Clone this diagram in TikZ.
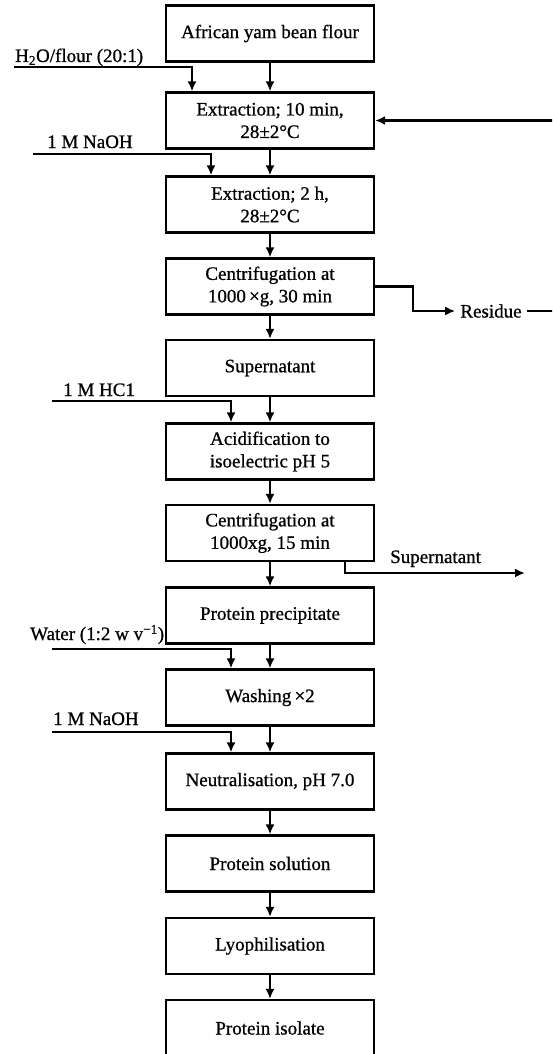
\documentclass[tikz,border=0pt]{standalone}
\usepackage{fontspec}
\setmainfont[FakeBold=0.8]{Liberation Serif}
\usetikzlibrary{arrows.meta}

\begin{document}
\begin{tikzpicture}[x=1pt,y=-1pt,
  every node/.style={font=\fontsize{19}{22.5}\selectfont},
  stage/.style={draw,line width=2.2pt,minimum width=208pt,minimum height=56pt,align=center,inner sep=2pt},
  flow/.style={line width=2.2pt,-{Latex[length=10pt,width=9pt]}},
  feed/.style={anchor=base west,inner sep=0pt}]
\useasboundingbox (0,0) rectangle (552,1054);
\clip (0,0) rectangle (552,1054);
            \node[stage] (flour) at (270,33.5) {African yam bean flour};
            \node[stage] (extr1) at (270,120.5) {Extraction; 10 min,\\28±2°C};
            \node[stage] (extr2) at (270,204.5) {Extraction; 2 h,\\28±2°C};
            \node[stage] (cent1) at (270,286.5) {Centrifugation at\\1000\,×g, 30 min};
            \node[stage] (super) at (270,368) {Supernatant};
            \node[stage] (acid) at (270,451.5) {Acidification to\\isoelectric pH 5};
            \node[stage] (cent2) at (270,533) {Centrifugation at\\1000xg, 15 min};
            \node[stage] (precip) at (270,615.5) {Protein precipitate};
            \node[stage] (wash) at (270,697.5) {Washing\,×2};
            \node[stage] (neutr) at (270,781.5) {Neutralisation, pH 7.0};
            \node[stage] (soln) at (270,863.5) {Protein solution};
            \node[stage] (lyoph) at (270,946) {Lyophilisation};
            \node[stage] (isolate) at (270,1028) {Protein isolate};
            \draw[flow] (flour) -- (extr1);
            \draw[flow] (extr1) -- (extr2);
            \draw[flow] (extr2) -- (cent1);
            \draw[flow] (cent1) -- (super);
            \draw[flow] (super) -- (acid);
            \draw[flow] (acid) -- (cent2);
            \draw[flow] (cent2) -- (precip);
            \draw[flow] (precip) -- (wash);
            \draw[flow] (wash) -- (neutr);
            \draw[flow] (neutr) -- (soln);
            \draw[flow] (soln) -- (lyoph);
            \draw[flow] (lyoph) -- (isolate);
            \node[feed] (water1) at (15,62) {H\textsubscript{2}O/flour (20:1)};
            \coordinate (water1in) at (14,67);
            \draw[flow] (water1in) -| ([xshift=-78pt]extr1.north);
            \node[feed] (naoh1) at (47,148) {1 M NaOH};
            \coordinate (naoh1in) at (33,154);
            \draw[flow] (naoh1in) -| ([xshift=-59pt]extr2.north);
            \node[feed] (hcl) at (63,396) {1 M HC1};
            \coordinate (hclin) at (52,401);
            \draw[flow] (hclin) -| ([xshift=-39pt]acid.north);
            \node[feed] (water2) at (30,640) {Water (1:2 w v\textsuperscript{−1})};
            \coordinate (water2in) at (52,649);
            \draw[flow] (water2in) -| ([xshift=-39pt]wash.north);
            \node[feed] (naoh2) at (53,725) {1 M NaOH};
            \coordinate (naoh2in) at (52,732);
            \draw[flow] (naoh2in) -| ([xshift=-39pt]neutr.north);
            \node[inner xsep=5pt,inner ysep=0pt] (res) at (491,311) {Residue};
            \draw[flow] (cent1.east) -- ++(38,0) |- (res.west);
            \draw[flow] (res.east) -- (557,311) |- (extr1.east);
            \node[feed] (supout) at (390,563) {Supernatant};
            \coordinate (supend) at (525,573);
            \draw[flow] ([xshift=75pt]cent2.south) |- (supend);
\end{tikzpicture}
\end{document}
